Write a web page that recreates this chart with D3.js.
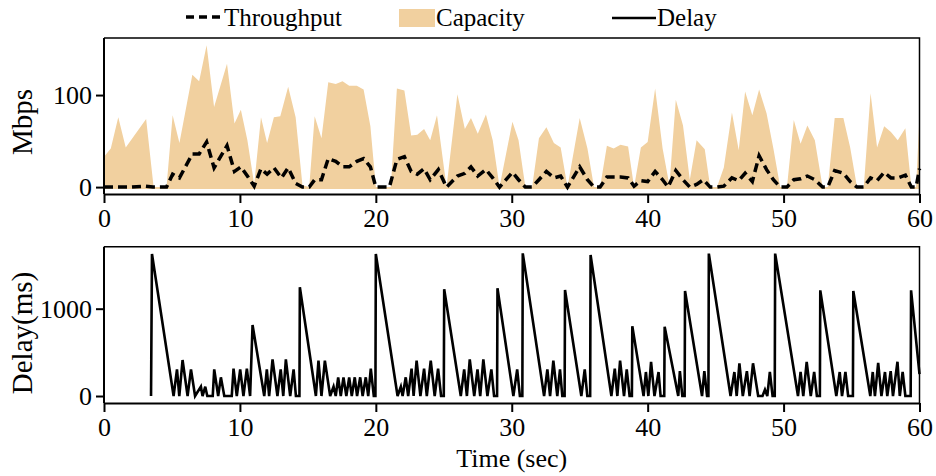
<!DOCTYPE html>
<html>
<head>
<meta charset="utf-8">
<script src="https://cdn.jsdelivr.net/npm/d3@7"></script>
<style>
  body { margin: 0; background: #fff; }
  text { font-family: "Liberation Serif", "Times New Roman", serif; fill: #000; }
</style>
</head>
<body>
<div id="chart"></div>
<script>
// capacity trace (sec, Mbps)
var capTime = [0, 0.5, 1.05, 1.6, 3.1, 3.65, 4.6, 5.05, 5.55, 6.5, 7.0, 7.55, 8.1, 9.05, 9.6, 10.07, 10.55, 11.05, 11.55, 12.0,
  12.5, 12.97, 13.55, 14.1, 14.6, 15.1, 15.5, 16.0, 16.5, 17.05, 17.55, 18.04, 18.6, 19.1, 19.6, 20.0, 21.1, 21.55, 22.1, 22.6,
  23.05, 23.55, 24.0, 24.5, 25.2, 26.0, 26.55, 27.0, 27.5, 28.1, 28.6, 29.1, 30.05, 30.5, 31.0, 31.5, 32.0, 32.55, 33.1, 33.6,
  34.1, 35.0, 35.57, 36.05, 36.5, 37.0, 37.5, 38.0, 38.56, 39.0, 39.5, 40.0, 40.55, 41.1, 41.6, 42.07, 42.6, 43.1, 43.6, 44.2,
  44.6, 45.1, 45.6, 46.2, 46.7, 47.17, 47.7, 48.2, 48.75, 49.25, 49.75, 50.25, 50.75, 51.25, 51.75, 52.3, 52.87, 53.25, 53.76, 54.4,
  54.9, 55.4, 55.9, 56.4, 56.88, 57.4, 57.9, 58.4, 58.96, 59.4, 59.75, 60];
var capMbps = [33, 42, 76, 43, 74, 0, 0, 78, 48, 122, 115, 154, 87, 134, 69, 84, 51, 3, 76, 48,
  76, 77, 109, 76, 2, 0, 77, 53, 114, 112, 115, 110, 110, 106, 66, 0, 0, 107, 105, 56,
  57, 63, 51, 78, 0, 101, 63, 75, 58, 79, 51, 0, 71, 51, 0, 0, 53, 65, 48, 43,
  0, 75, 42, 0, 0, 45, 42, 46, 44, 0, 43, 49, 107, 42, 2, 95, 67, 8, 51, 41,
  0, 0, 21, 81, 40, 104, 78, 106, 80, 42, 0, 0, 73, 47, 67, 51, 0, 0, 75, 75,
  43, 0, 0, 102, 43, 66, 60, 51, 64, 0, 0, 78];

// throughput (sec, Mbps)
var tputTime = [0, 2.0, 3.0, 3.6, 4.6, 5.05, 5.55, 6.5, 7.0, 7.55, 8.1, 9.05, 9.6, 10.07, 10.55, 11.05, 11.55, 12.0, 12.5, 13.05,
  13.55, 14.1, 14.6, 15.1, 15.5, 16.0, 16.5, 17.05, 17.55, 18.04, 18.6, 19.1, 19.6, 20.0, 21.0, 21.55, 22.1, 22.6, 23.05, 23.55,
  24.0, 24.6, 25.2, 26.0, 26.55, 27.0, 27.5, 28.1, 28.6, 29.1, 30.05, 30.5, 31.0, 31.5, 32.0, 32.55, 33.1, 33.6, 34.1, 35.0,
  35.57, 36.05, 36.5, 37.0, 37.5, 38.0, 38.56, 39.0, 39.5, 40.0, 40.55, 41.1, 41.5, 42.07, 42.6, 43.1, 43.6, 44.1, 44.6, 45.1,
  45.6, 46.2, 46.7, 47.17, 47.7, 48.2, 48.75, 49.25, 49.75, 50.25, 50.75, 51.25, 51.75, 52.3, 52.87, 53.25, 53.76, 54.4, 54.9, 55.4,
  55.9, 56.4, 56.88, 57.4, 57.9, 58.4, 58.96, 59.4, 59.75, 60];
var tputMbps = [0, 0, 1, 0, 0, 14, 10, 36, 36, 49, 21, 45, 17, 22, 12, 1, 20, 14, 21, 10,
  21, 4, 0, 0, 8, 8, 31, 28, 22, 22, 28, 31, 22, 0, 0, 30, 33, 17, 14, 20,
  8, 19, 0, 12, 15, 22, 12, 19, 10, 0, 16, 8, 0, 0, 8, 17, 10, 12, 0, 22,
  8, 0, 0, 11, 11, 11, 10, 1, 7, 6, 17, 8, 0, 18, 8, 0, 3, 8, 0, 0,
  1, 10, 7, 15, 6, 34, 19, 8, 0, 0, 8, 9, 12, 8, 0, 0, 18, 15, 6, 0,
  0, 10, 7, 16, 10, 10, 13, 0, 0, 20];

// queueing delay (sec, ms)
var delayTime = [3.46, 3.53, 5.12, 5.37, 5.54, 5.78, 6.15, 6.4, 6.7, 7.13, 7.25, 7.45, 7.6, 8.0, 8.11, 8.4, 8.6, 8.85, 9.4, 9.53,
  9.77, 10.02, 10.26, 10.51, 10.75, 10.93, 11.79, 11.98, 12.15, 12.4, 12.76, 13.0, 13.19, 13.38, 13.7, 13.95, 14.12, 14.38, 14.41, 15.59,
  15.78, 16.0, 16.25, 16.64, 16.89, 17.05, 17.23, 17.42, 17.62, 17.83, 18.04, 18.23, 18.45, 18.62, 18.85, 19.03, 19.26, 19.44, 19.63, 19.85,
  19.97, 20.0, 21.6, 21.84, 21.97, 22.2, 22.38, 22.63, 22.78, 23.0, 23.28, 23.55, 23.75, 24.04, 24.33, 24.58, 24.8, 25.0, 25.03, 26.25,
  26.5, 26.7, 26.91, 27.24, 27.48, 27.68, 27.91, 28.21, 28.5, 28.7, 28.92, 28.95, 30.12, 30.4, 30.6, 30.78, 30.81, 32.38, 32.62, 32.82,
  33.06, 33.35, 33.55, 33.72, 33.89, 33.92, 35.12, 35.37, 35.56, 35.77, 35.8, 37.33, 37.58, 37.77, 37.97, 38.26, 38.46, 38.67, 38.84, 38.87,
  39.7, 39.87, 40.05, 40.25, 40.5, 40.8, 40.95, 41.22, 41.25, 42.25, 42.37, 42.55, 42.72, 42.75, 44.0, 44.17, 44.37, 44.47, 44.5, 46.1,
  46.38, 46.55, 46.75, 47.0, 47.3, 47.5, 47.75, 48.13, 48.45, 48.63, 48.8, 48.99, 49.19, 49.35, 49.38, 51.06, 51.25, 51.45, 51.7, 52.0,
  52.25, 52.45, 52.67, 52.7, 53.88, 54.13, 54.3, 54.55, 54.75, 55.1, 55.13, 56.38, 56.56, 56.72, 56.96, 57.2, 57.46, 57.63, 57.88, 58.05,
  58.38, 58.55, 58.76, 58.96, 59.35, 59.38, 60];
var delayMs = [0, 1627, 0, 305, 0, 412, 0, 305, 0, 107, 0, 107, 0, 0, 305, 0, 214, 0, 0, 313,
  0, 305, 0, 313, 0, 813, 0, 305, 0, 420, 0, 305, 0, 420, 0, 305, 0, 0, 1245, 0,
  405, 0, 405, 0, 107, 0, 214, 0, 214, 0, 214, 0, 214, 0, 214, 0, 214, 0, 313, 0,
  0, 1627, 0, 107, 0, 214, 0, 313, 0, 405, 0, 313, 0, 405, 0, 313, 0, 0, 1222, 0,
  305, 0, 420, 0, 305, 0, 420, 0, 305, 0, 0, 1234, 0, 305, 0, 0, 1634, 0, 305, 0,
  405, 0, 305, 0, 0, 1214, 0, 305, 0, 0, 1615, 0, 313, 0, 405, 0, 305, 0, 0, 800,
  0, 275, 0, 392, 0, 275, 0, 0, 793, 0, 285, 0, 0, 1203, 0, 285, 0, 0, 1631, 0,
  275, 0, 375, 0, 285, 0, 375, 0, 0, 73, 0, 275, 0, 0, 1631, 0, 275, 0, 392, 0,
  275, 0, 0, 1210, 0, 275, 0, 275, 0, 0, 1203, 0, 275, 0, 380, 0, 275, 0, 285, 0,
  392, 0, 275, 0, 0, 1210, 250];

var timeTicks = [0, 10, 20, 30, 40, 50, 60];
var mbpsTicks = [0, 100];
var delayTicks = [0, 1000];

(function(){
  var width = 936,
      height = 476;

  var svg = d3.select("#chart")
    .append("svg")
    .attr("width", width)
    .attr("height", height);

  // shared time axis
  var x = d3.scaleLinear().domain([0, 60]).range([104, 919.5]);

  // one scale per panel
  var yTop = d3.scaleLinear().domain([-7.5, 162]).range([194, 38]);
  var yBot = d3.scaleLinear().domain([-80, 1710]).range([403, 246.7]);

  var cap = capTime.map(function(t, i) { return {t: t, v: capMbps[i]} });
  var tput = tputTime.map(function(t, i) { return {t: t, v: tputMbps[i]} });
  var delay = delayTime.map(function(t, i) { return {t: t, v: delayMs[i]} });

  // capacity area
  var area = d3.area()
    .x(function(d) { return x(d.t) })
    .y0(yTop(-2))
    .y1(function(d) { return yTop(d.v) });

  svg.append("path")
    .datum(cap)
    .attr("d", area)
    .attr("fill", "#f1d09f");

  // throughput dashed line
  var lineTop = d3.line()
    .x(function(d) { return x(d.t) })
    .y(function(d) { return yTop(d.v) });

  svg.append("path")
    .datum(tput)
    .attr("d", lineTop)
    .attr("fill", "none")
    .attr("stroke", "#000")
    .attr("stroke-width", 3.5)
    .attr("stroke-dasharray", "9,5");

  // delay line
  var lineBot = d3.line()
    .x(function(d) { return x(d.t) })
    .y(function(d) { return yBot(d.v) });

  svg.append("path")
    .datum(delay)
    .attr("d", lineBot)
    .attr("fill", "none")
    .attr("stroke", "#000")
    .attr("stroke-width", 2.6)
    .attr("stroke-linejoin", "miter");

  // axes + frame for both panels
  function drawPanel(y, ticks) {
    var top = y.range()[1], bottom = y.range()[0];

    // thin frame top/right
    svg.append("path")
      .attr("d", "M" + x(0) + "," + top + "H" + x(60) + "V" + bottom)
      .attr("fill", "none")
      .attr("stroke", "#000")
      .attr("stroke-width", 1.5);

    var gx = svg.append("g")
      .attr("transform", "translate(0," + bottom + ")")
      .call(d3.axisBottom(x).tickValues(timeTicks).tickFormat(d3.format("d"))
        .tickSize(9).tickSizeOuter(0).tickPadding(6));

    var gy = svg.append("g")
      .attr("transform", "translate(" + x(0) + ",0)")
      .call(d3.axisLeft(y).tickValues(ticks).tickFormat(d3.format("d"))
        .tickSize(8).tickSizeOuter(0).tickPadding(4));

    gy.select(".domain").attr("d", "M0," + top + "V" + bottom);

    [gx, gy].forEach(function(g) {
      g.attr("font-family", "Liberation Serif, serif").attr("font-size", 26);
      g.selectAll("path, line").attr("stroke", "#000").attr("stroke-width", 2);
      g.selectAll("text").attr("fill", "#000");
    });
  }

  drawPanel(yTop, mbpsTicks);
  drawPanel(yBot, delayTicks);

  // axis titles
  svg.append("text")
    .attr("transform", "translate(32,122) rotate(-90)")
    .attr("text-anchor", "middle")
    .style("font-size", "29px")
    .text("Mbps");

  svg.append("text")
    .attr("transform", "translate(32,333) rotate(-90)")
    .attr("text-anchor", "middle")
    .style("font-size", "29px")
    .text("Delay(ms)");

  svg.append("text")
    .attr("x", (x(0) + x(60)) / 2)
    .attr("y", 467)
    .attr("text-anchor", "middle")
    .style("font-size", "26px")
    .text("Time (sec)");

  // legend
  var legend = svg.append("g");

  legend.append("line")
    .attr("x1", 186).attr("x2", 223)
    .attr("y1", 17).attr("y2", 17)
    .attr("stroke", "#000")
    .attr("stroke-width", 3.5)
    .attr("stroke-dasharray", "8,5");

  legend.append("text")
    .attr("x", 224).attr("y", 26)
    .style("font-size", "25px")
    .text("Throughput");

  legend.append("rect")
    .attr("x", 399).attr("y", 9)
    .attr("width", 36).attr("height", 18)
    .attr("fill", "#f1d09f");

  legend.append("text")
    .attr("x", 436).attr("y", 26)
    .style("font-size", "25px")
    .text("Capacity");

  legend.append("line")
    .attr("x1", 612).attr("x2", 656)
    .attr("y1", 18).attr("y2", 18)
    .attr("stroke", "#000")
    .attr("stroke-width", 2.5);

  legend.append("text")
    .attr("x", 657).attr("y", 26)
    .style("font-size", "25px")
    .text("Delay");
})();
</script>
</body>
</html>
